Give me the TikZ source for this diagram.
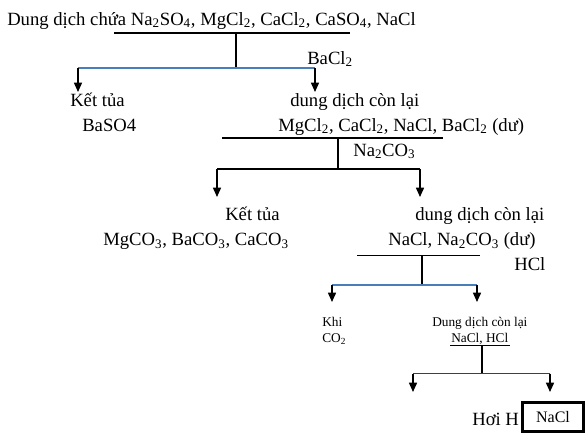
\documentclass[tikz,border=0pt]{standalone}
\usepackage{fontspec}
\setmainfont{Liberation Serif}
\usetikzlibrary{arrows.meta}
\definecolor{blueline}{HTML}{4A7EBB}
\begin{document}
\begin{tikzpicture}[x=0.75pt,y=-0.75pt,
  txt/.style={anchor=base west,inner sep=0pt,font=\fontsize{14}{16}\selectfont},
  small/.style={anchor=base west,inner sep=0pt,font=\fontsize{10}{12}\selectfont},
  ln/.style={line width=1.1pt},
  bl/.style={line width=1.1pt,draw=blueline},
  arr/.style={line width=1.1pt,-{Triangle[length=7pt,width=6pt]}}]
\useasboundingbox (0,0) rectangle (588,440);
% texts
\node[txt] (t0) at (7,25) {Dung dịch chứa Na\textsubscript{2}SO\textsubscript{4}, MgCl\textsubscript{2}, CaCl\textsubscript{2}, CaSO\textsubscript{4}, NaCl};
\node[txt] (r1) at (307,64) {BaCl\textsubscript{2}};
\node[txt] (k1) at (70,106) {Kết tủa};
\node[txt] (k1b) at (82,131) {BaSO4};
\node[txt] (d1) at (290,106) {dung dịch còn lại};
\node[txt] (d1b) at (278,131) {MgCl\textsubscript{2}, CaCl\textsubscript{2}, NaCl, BaCl\textsubscript{2} (dư)};
\node[txt] (r2) at (353,156) {Na\textsubscript{2}CO\textsubscript{3}};
\node[txt] (k2) at (225,220.5) {Kết tủa};
\node[txt] (k2b) at (103,245.5) {MgCO\textsubscript{3}, BaCO\textsubscript{3}, CaCO\textsubscript{3}};
\node[txt] (d2) at (415,220.5) {dung dịch còn lại};
\node[txt] (d2b) at (388,245.5) {NaCl, Na\textsubscript{2}CO\textsubscript{3} (dư)};
\node[txt] (r3) at (514,270) {HCl};
\node[small] (k3) at (322,326.5) {Khi};
\node[small] (k3b) at (322,342) {CO\textsubscript{2}};
\node[small] (d3) at (432,326.5) {Dung dịch còn lại};
\node[small] (d3b) at (451,342) {NaCl, HCl};
\node[txt] (h4) at (472,425) {Hơi H};
\node[draw,line width=2.2pt,fill=white,minimum width=45.75pt,minimum height=21.75pt,
  inner sep=0pt,font=\fontsize{12}{14}\selectfont] (box) at (553,417) {NaCl};
% coordinates
\coordinate (a1) at (114,33); \coordinate (a2) at (350,33); \coordinate (a3) at (236,33);
\coordinate (a4) at (236,68); \coordinate (b1) at (78,68); \coordinate (b2) at (315,68);
\coordinate (b1e) at (78,92); \coordinate (b2e) at (315,92);
\coordinate (c1) at (222,138); \coordinate (c2) at (443,138); \coordinate (c3) at (338,138);
\coordinate (c4) at (338,168); \coordinate (e1) at (217,169); \coordinate (e2) at (420,169);
\coordinate (e1e) at (217,197); \coordinate (e2e) at (420,197);
\coordinate (f1) at (357,255.5); \coordinate (f2) at (480,255.5); \coordinate (f3) at (422,255.5);
\coordinate (f4) at (422,285); \coordinate (g1) at (332,285); \coordinate (g2) at (477,285);
\coordinate (g1e) at (332,302); \coordinate (g2e) at (477,302);
\coordinate (u1) at (450,345.5); \coordinate (u2) at (510,345.5); \coordinate (u3) at (482,345.5);
\coordinate (u4) at (482,373.5); \coordinate (w1) at (413,373.5); \coordinate (w2) at (550,373.5);
\coordinate (w1e) at (413,392); \coordinate (w2e) at (550,392);
% lines
\draw[ln] (a1) -- (a2);
\draw[ln] (a3) -- (a4);
\draw[bl] (b1) -- (b2);
\draw[arr] (b1) -- (b1e);
\draw[arr] (b2) -- (b2e);
\draw[ln] (c1) -- (c2);
\draw[ln] (c3) -- (c4);
\draw[ln] (e1) -- (e2);
\draw[arr] (e1) -- (e1e);
\draw[arr] (e2) -- (e2e);
\draw[ln] (f1) -- (f2);
\draw[ln] (f3) -- (f4);
\draw[bl] (g1) -- (g2);
\draw[arr] (g1) -- (g1e);
\draw[arr] (g2) -- (g2e);
\draw[line width=0.7pt] (u1) -- (u2);
\draw[ln] (u3) -- (u4);
\draw[ln,draw=black!75] (w1) -- (w2);
\draw[arr] (w1) -- (w1e);
\draw[arr] (w2) -- (w2e);
\end{tikzpicture}
\end{document}
